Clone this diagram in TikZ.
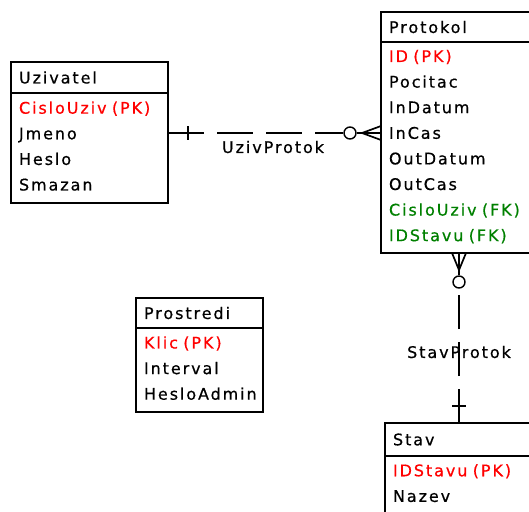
\documentclass[tikz,border=0pt]{standalone}
\usepackage{fontspec}
\setmainfont{DejaVu Sans}[LetterSpace=12, FakeBold=0.6]
\usetikzlibrary{positioning,calc}
\definecolor{pkred}{RGB}{255,0,0}
\definecolor{fkgreen}{RGB}{0,128,0}

\begin{document}
\begin{tikzpicture}[x=1pt, y=-1pt, line width=1.7pt,
    every node/.style={font=\fontsize{16}{25.6}\selectfont},
    tabhead/.style={draw, anchor=north west, outer sep=0pt, inner xsep=8pt, inner ysep=0pt, align=left},
    tabbody/.style={tabhead, execute at end node={\rule[-4pt]{0pt}{4pt}}},
    optional/.style={circle, draw, inner sep=0pt, minimum size=12pt, line width=1.4pt}]
    \useasboundingbox (0,0) rectangle (529,511);
    \clip (0,0) rectangle (529,511);

    % tables
    \node[tabhead, text width=141pt, minimum height=31pt] (uzivH) at (11,62) {Uzivatel};
    \node[tabbody, text width=141pt, minimum height=110pt] (uzivB) at (uzivH.south west)
        {\textcolor{pkred}{CisloUziv (PK)}\\Jmeno\\Heslo\\Smazan};

    \node[tabhead, text width=140pt, minimum height=30pt] (protH) at (381,12) {Protokol};
    \node[tabbody, text width=140pt, minimum height=211pt] (protB) at (protH.south west)
        {\textcolor{pkred}{ID (PK)}\\Pocitac\\InDatum\\InCas\\OutDatum\\OutCas\\
         \textcolor{fkgreen}{CisloUziv (FK)}\\\textcolor{fkgreen}{IDStavu (FK)}};

    \node[tabhead, text width=111pt, minimum height=30pt] (prosH) at (136,298) {Prostredi};
    \node[tabbody, text width=111pt, minimum height=84pt] (prosB) at (prosH.south west)
        {\textcolor{pkred}{Klic (PK)}\\Interval\\HesloAdmin};

    \node[tabhead, text width=132pt, minimum height=33pt] (stavH) at (385,423) {Stav};
    \node[tabbody, text width=132pt, minimum height=58pt] (stavB) at (stavH.south west)
        {\textcolor{pkred}{IDStavu (PK)}\\Nazev};

    % UzivProtok
    \coordinate (up1) at ([yshift=15pt]uzivB.east);
    \coordinate (up2) at (up1 -| protB.west);
    \coordinate (upc) at ([xshift=-19pt]up2);
    \node[optional] (upo) at ([xshift=-31pt]up2) {};
    \draw[dash pattern=on 36pt off 13pt] (up1) -- (upo.west);
    \draw (upo.east) -- (upc);
    \draw (upc) -- ([yshift=7pt]up2) (upc) -- (up2) (upc) -- ([yshift=-7pt]up2);
    \draw ([xshift=20pt,yshift=7pt]up1) -- ([xshift=20pt,yshift=-7pt]up1);
    \node (uplab) at ([xshift=105pt,yshift=-14pt]up1) {UzivProtok};

    % StavProtok
    \coordinate (sp1) at (stavH.north);
    \coordinate (sp2) at (sp1 |- protB.south);
    \coordinate (spc) at ([yshift=-17pt]sp2);
    \node[optional] (spo) at ([yshift=-29pt]sp2) {};
    \draw[dash pattern=on 34pt off 13pt] (sp1) -- (spo.south);
    \draw (spo.north) -- (spc);
    \draw (spc) -- ([xshift=-7pt]sp2) (spc) -- (sp2) (spc) -- ([xshift=7pt]sp2);
    \draw ([xshift=-7pt,yshift=17pt]sp1) -- ([xshift=7pt,yshift=17pt]sp1);
    \node (splab) at ([yshift=71pt]sp1) {StavProtok};
\end{tikzpicture}
\end{document}
